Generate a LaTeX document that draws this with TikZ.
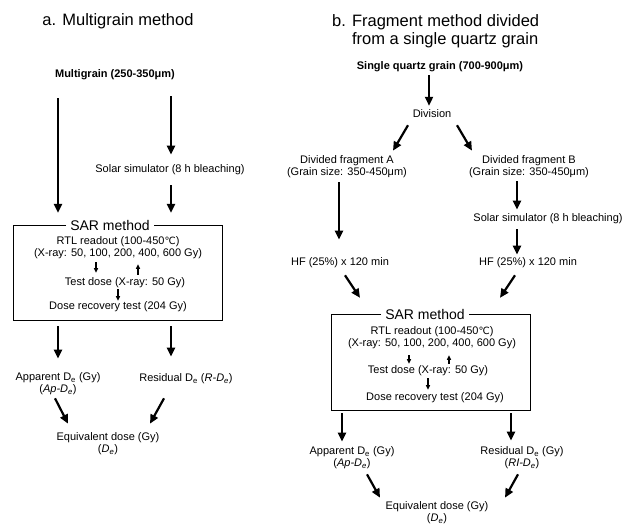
\documentclass[tikz,border=0pt]{standalone}
\usepackage{fontspec}
\setmainfont{Liberation Sans}
\newfontfamily\dejavu{DejaVu Sans}
\usetikzlibrary{arrows.meta,calc}
\newcommand{\degC}{{\dejavu\fontsize{10}{12}\selectfont ℃}}
\newcommand{\De}{D\textsubscript{e}}
\begin{document}
\begin{tikzpicture}[x=1pt,y=-1pt,
  txt/.style={font=\fontsize{11}{12}\selectfont, inner sep=1pt, align=center},
  ttl/.style={font=\fontsize{16.5}{18}\selectfont, inner sep=0pt, align=left},
  sar/.style={font=\fontsize{14}{16}\selectfont, inner xsep=4pt, inner ysep=0pt},
  sarbox/.style={inner sep=0pt},
  frame/.style={line width=0.8pt},
  arr/.style={line width=2.2pt, -{Triangle[length=9pt,width=8pt]}},
  sarr/.style={line width=1.1pt, -{Triangle[length=4.5pt,width=4pt]}}]
\useasboundingbox (0,0) rectangle (634,525);
\fill[white] (0,0) rectangle (634,525);
% ---------- panel a ----------
\node[ttl] (tA) at (118,21) {a. Multigrain method};
\node[txt] (mg) at (115,75) {\bfseries Multigrain (250-350μm)};
\node[txt] (solA) at (170,170) {Solar simulator (8 h bleaching)};
\node[sarbox, minimum width=208, minimum height=94] (sarA) at (118,273) {};
\node[sar] (sarAt) at (110,225) {SAR method};
\draw[frame] (sarAt.west |- sarA.north) -- (sarA.north west) -- (sarA.south west)
  -- (sarA.south east) -- (sarA.north east) -- (sarAt.east |- sarA.north);
\node[txt] (rtlA) at (118,248) {RTL readout (100-450\degC)\\(X-ray: 50, 100, 200, 400, 600 Gy)};
\node[txt] (tdA) at (125,283) {Test dose (X-ray: 50 Gy)};
\node[txt] (drA) at (118,307) {Dose recovery test (204 Gy)};
\node[txt] (apA) at (58,384) {Apparent \De{} (Gy)\\(\textit{Ap-\De})};
\node[txt] (rdA) at (186,379) {Residual \De{} (\textit{R-\De})};
\node[txt] (eqA) at (108,444) {Equivalent dose (Gy)\\(\textit{\De})};
\coordinate (xa1) at (58,0);
\coordinate (xa2) at (171,0);
\draw[arr, shorten <=17pt, shorten >=13pt] (mg.south -| xa1) -- (sarA.north -| xa1);
\draw[arr, shorten <=15pt, shorten >=9pt] (mg.south -| xa2) -- (solA.north -| xa2);
\draw[arr, shorten <=9pt, shorten >=13pt] (solA.south -| xa2) -- (sarA.north -| xa2);
\coordinate (xa3) at (96,0);
\coordinate (xa4) at (138,0);
\coordinate (xa5) at (118,0);
\draw[sarr, shorten <=2pt, shorten >=4pt] (rtlA.south -| xa3) -- (tdA.north -| xa3);
\draw[sarr, shorten <=2pt, shorten >=4pt] (tdA.north -| xa4) -- (rtlA.south -| xa4);
\draw[sarr, shorten <=0pt, shorten >=0pt] (tdA.south -| xa5) -- (drA.north -| xa5);
\draw[arr, shorten <=6pt, shorten >=13pt] (sarA.south -| xa1) -- (apA.north -| xa1);
\draw[arr, shorten <=6pt, shorten >=16pt] (sarA.south -| xa2) -- (rdA.north -| xa2);
\draw[arr] ($(apA.south)+(-3,2)$) -- ($(eqA.north)+(-40,-8)$);
\draw[arr] ($(rdA.south)+(-22,13)$) -- ($(eqA.north)+(42,-8)$);
% ---------- panel b ----------
\node[ttl, anchor=west] (tB) at (332,31) {b. Fragment method divided\\\hphantom{b. }from a single quartz grain};
\node[txt] (sg) at (440,67) {\bfseries Single quartz grain (700-900μm)};
\node[txt] (div) at (432,114) {Division};
\node[txt] (fA) at (347,167) {Divided fragment A\\(Grain size: 350-450μm)};
\node[txt] (fB) at (529,167) {Divided fragment B\\(Grain size: 350-450μm)};
\node[txt] (solB) at (548,219) {Solar simulator (8 h bleaching)};
\node[txt] (hfA) at (340,263) {HF (25\%) x 120 min};
\node[txt] (hfB) at (528,263) {HF (25\%) x 120 min};
\node[sarbox, minimum width=198, minimum height=95] (sarB) at (431,362.5) {};
\node[sar] (sarBt) at (425,314) {SAR method};
\draw[frame] (sarBt.west |- sarB.north) -- (sarB.north west) -- (sarB.south west)
  -- (sarB.south east) -- (sarB.north east) -- (sarBt.east |- sarB.north);
\node[txt] (rtlB) at (432,338) {RTL readout (100-450\degC)\\(X-ray: 50, 100, 200, 400, 600 Gy)};
\node[txt] (tdB) at (428,371) {Test dose (X-ray: 50 Gy)};
\node[txt] (drB) at (435,398) {Dose recovery test (204 Gy)};
\node[txt] (apB) at (352,458) {Apparent \De{} (Gy)\\(\textit{Ap-\De})};
\node[txt] (rdB) at (522,458) {Residual \De{} (Gy)\\(\textit{RI-\De})};
\node[txt] (eqB) at (437,513) {Equivalent dose (Gy)\\(\textit{\De})};
\coordinate (xb1) at (429,0);
\coordinate (xb2) at (339,0);
\coordinate (xb3) at (517,0);
\draw[arr, shorten <=2pt, shorten >=3pt] (sg.south -| xb1) -- (div.north -| xb1);
\draw[arr] ($(div.south)+(-24,6)$) -- ($(fA.north)+(46,-4)$);
\draw[arr] ($(div.south)+(25,6)$) -- ($(fB.north)+(-57,-4)$);
\draw[arr, shorten <=3pt, shorten >=17pt] (fA.south -| xb2) -- (hfA.north -| xb2);
\draw[arr, shorten <=2pt, shorten >=3pt] (fB.south -| xb3) -- (solB.north -| xb3);
\draw[arr, shorten <=4pt, shorten >=2pt] (solB.south -| xb3) -- (hfB.north -| xb3);
\draw[arr] ($(hfA.south)+(5,6)$) -- ($(sarB.north)+(-71,-17)$);
\draw[arr] ($(hfB.south)+(-13,6)$) -- ($(sarB.north)+(69,-17)$);
\coordinate (xb4) at (409,0);
\coordinate (xb5) at (449,0);
\coordinate (xb6) at (428,0);
\draw[sarr, shorten <=5pt, shorten >=1pt] (rtlB.south -| xb4) -- (tdB.north -| xb4);
\draw[sarr, shorten <=1pt, shorten >=5pt] (tdB.north -| xb5) -- (rtlB.south -| xb5);
\draw[sarr, shorten <=1pt, shorten >=2pt] (tdB.south -| xb6) -- (drB.north -| xb6);
\coordinate (xb7) at (342,0);
\coordinate (xb8) at (511,0);
\draw[arr, shorten <=3pt, shorten >=4pt] (sarB.south -| xb7) -- (apB.north -| xb7);
\draw[arr, shorten <=3pt, shorten >=5pt] (sarB.south -| xb8) -- (rdB.north -| xb8);
\draw[arr] ($(apB.south)+(15,4)$) -- ($(eqB.north)+(-57,-3)$);
\draw[arr] ($(rdB.south)+(-4,4)$) -- ($(eqB.north)+(68,-3)$);
\end{tikzpicture}
\end{document}
